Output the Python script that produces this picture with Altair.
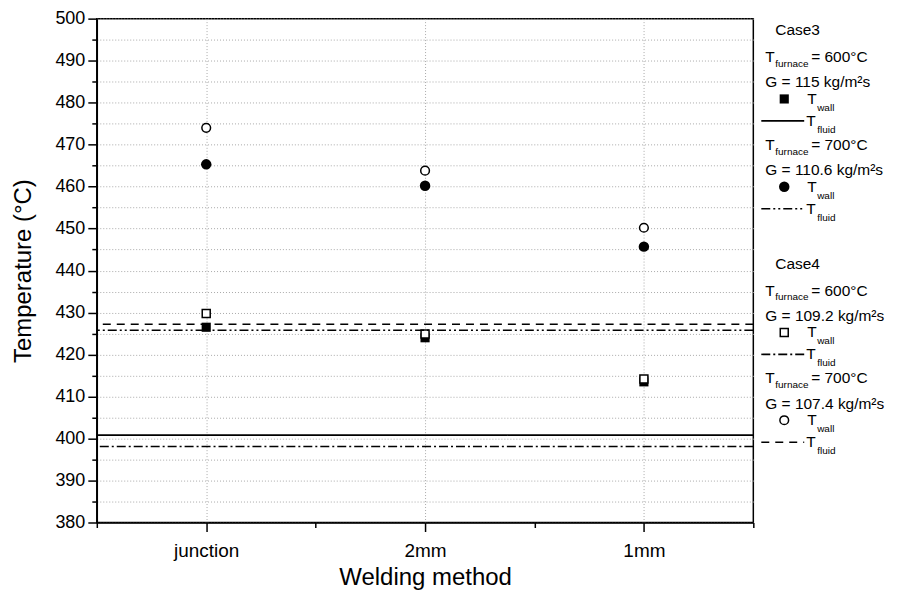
import altair as alt
import pandas as pd

# ---------------- data ----------------
categories = ["junction", "2mm", "1mm"]
cat_pos = [1, 2, 3]
case3_600_wall = [426.5, 424.0, 413.5]   # filled square
case3_700_wall = [465.3, 460.2, 445.7]   # filled circle
case4_600_wall = [429.8, 424.9, 414.2]   # open square
case4_700_wall = [474.0, 463.8, 450.2]   # open circle
fluid_names = ["case3_600", "case3_700", "case4_600", "case4_700"]
fluid_values = [400.8, 425.8, 398.1, 427.2]
y_ticks = list(range(380, 501, 5))
x_ticks = [0.5, 1, 1.5, 2, 2.5, 3, 3.5]

# ---------------- styles ----------------
FONT = "Liberation Sans"
W, H = 658, 505
dash_styles = [[1, 0], [9, 3, 2, 3, 2, 3], [9, 3, 2, 3], [8, 6]]
dash_scale = alt.Scale(domain=fluid_names, range=dash_styles)
SIZES = {("square", True): 84, ("square", False): 64,
         ("circle", True): 110, ("circle", False): 76}

xs = alt.Scale(domain=[0.5, 3.5], nice=False, zero=False)
ys = alt.Scale(domain=[380, 500], nice=False, zero=False)

label_expr = " : ".join(
    f"datum.value === {p} ? '{c}'" for p, c in zip(cat_pos, categories)
) + " : ''"

xaxis = alt.Axis(
    values=x_ticks, labelExpr=label_expr, title="Welding method",
    grid=True, gridDash=[1, 2], gridColor="#aaaaaa", gridWidth=1,
    gridOpacity={"condition": {"test": "datum.value % 1 === 0", "value": 1}, "value": 0},
    tickSize={"condition": {"test": "datum.value % 1 === 0", "value": 9}, "value": 5},
    tickWidth=1.5, tickColor="black", domainColor="black", domainWidth=1.5,
    labelFont=FONT, labelFontSize=19, labelColor="black", labelPadding=10,
    labelFlush=False, labelOverlap=False,
    titleFont=FONT, titleFontSize=24, titleFontWeight="normal", titleColor="black",
    titlePadding=5,
)
yaxis = alt.Axis(
    values=y_ticks, labelExpr="datum.value % 10 === 0 ? datum.label : ''",
    title="Temperature (°C)",
    grid=True, gridDash=[1, 2], gridColor="#aaaaaa", gridWidth=1,
    tickSize={"condition": {"test": "datum.value % 10 === 0", "value": 9}, "value": 5},
    tickWidth=1.5, tickColor="black", domainColor="black", domainWidth=1.5,
    labelFont=FONT, labelFontSize=18, labelColor="black", labelPadding=3,
    labelFlush=False, labelOverlap=False,
    titleFont=FONT, titleFontSize=24, titleFontWeight="normal", titleColor="black",
    titlePadding=19,
)

fluid_df = pd.DataFrame({"series": fluid_names, "T": fluid_values})
rules = alt.Chart(fluid_df).mark_rule(color="black", strokeWidth=1.6).encode(
    y=alt.Y("T:Q", scale=ys, axis=yaxis),
    strokeDash=alt.StrokeDash("series:N", scale=dash_scale, legend=None),
)


def point_mark(df, shape, filled):
    size = SIZES[(shape, filled)]
    if filled:
        return alt.Chart(df).mark_point(shape=shape, filled=True, color="black",
                                        size=size, opacity=1)
    return alt.Chart(df).mark_point(shape=shape, filled=True, fill="white",
                                    stroke="black", strokeWidth=1.5,
                                    size=size, opacity=1)


def pts(vals, shape, filled):
    df = pd.DataFrame({"pos": cat_pos, "T": vals})
    return point_mark(df, shape, filled).encode(
        x=alt.X("pos:Q", scale=xs, axis=xaxis),
        y=alt.Y("T:Q", scale=ys, axis=yaxis))


main = alt.layer(
    pts(case3_600_wall, "square", True),
    pts(case4_600_wall, "square", False),
    pts(case3_700_wall, "circle", True),
    pts(case4_700_wall, "circle", False),
    rules,
).properties(width=W, height=H,
             view=alt.ViewBackground(stroke="black", strokeWidth=1.5))

# ---------------- legend panel ----------------
LW = 136
lx = alt.Scale(domain=[0, LW], nice=False, zero=False)
ly = alt.Scale(domain=[0, H], nice=False, zero=False, reverse=True)

blocks = [
    ("Case3", [("600", "115", "case3_600", "square", True),
               ("700", "110.6", "case3_700", "circle", True)]),
    ("Case4", [("600", "109.2", "case4_600", "square", False),
               ("700", "107.4", "case4_700", "circle", False)]),
]
block_top = [11.5, 245.5]

texts, lines, marks = [], [], []
for (case, items), top in zip(blocks, block_top):
    texts.append((18, top, case, 15.5))
    y = top + 27
    for furn, g, series, shape, filled in items:
        texts.append((8, y, "T", 15.5))
        texts.append((18, y + 7, "furnace", 10))
        texts.append((54, y, "= " + furn + "°C", 15.5))
        texts.append((8, y + 25.5, "G = " + g + " kg/m²s", 15.5))
        ym = y + 42
        marks.append((27, ym, shape, filled))
        texts.append((50, ym, "T", 15.5))
        texts.append((60, ym + 9, "wall", 10))
        yl = ym + 22
        lines.append((4, 47, yl, series))
        texts.append((49, yl, "T", 15.5))
        texts.append((60, yl + 9, "fluid", 10))
        y = yl + 24

text_df = pd.DataFrame(texts, columns=["px", "py", "text", "size"])
leg_text = alt.Chart(text_df).mark_text(
    align="left", baseline="middle", font=FONT, color="black"
).encode(
    x=alt.X("px:Q", scale=lx, axis=None),
    y=alt.Y("py:Q", scale=ly, axis=None),
    text="text:N",
    size=alt.Size("size:Q", scale=None, legend=None),
)
line_df = pd.DataFrame(lines, columns=["px", "px2", "py", "series"])
leg_lines = alt.Chart(line_df).mark_rule(color="black", strokeWidth=1.6).encode(
    x=alt.X("px:Q", scale=lx, axis=None), x2="px2:Q",
    y=alt.Y("py:Q", scale=ly, axis=None),
    strokeDash=alt.StrokeDash("series:N", scale=dash_scale, legend=None),
)
leg_marks = []
for px, py, shape, filled in marks:
    df = pd.DataFrame({"px": [px], "py": [py]})
    leg_marks.append(point_mark(df, shape, filled).encode(
        x=alt.X("px:Q", scale=lx, axis=None),
        y=alt.Y("py:Q", scale=ly, axis=None)))

legend = alt.layer(leg_lines, leg_text, *leg_marks).properties(
    width=LW, height=H, view=alt.ViewBackground(stroke="transparent"))

chart = alt.hconcat(main, legend, spacing=4, bounds="flush").properties(
    padding={"left": 3, "top": 0, "right": 0, "bottom": 0},
    background="white",
).configure_view(stroke="transparent")

chart.save("out.html", embed_options={"renderer": "svg", "actions": False})
